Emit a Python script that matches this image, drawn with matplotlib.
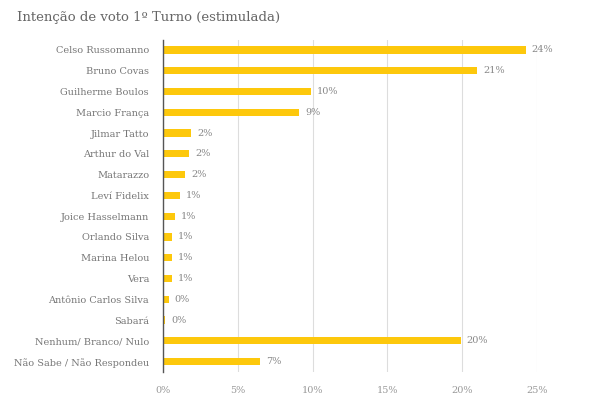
import matplotlib
matplotlib.use("Agg")
import matplotlib.pyplot as plt

categories = ["Celso Russomanno", "Bruno Covas", "Guilherme Boulos", "Marcio França",
              "Jilmar Tatto", "Arthur do Val", "Matarazzo", "Leví Fidelix",
              "Joice Hasselmann", "Orlando Silva", "Marina Helou", "Vera",
              "Antônio Carlos Silva", "Sabará", "Nenhum/ Branco/ Nulo",
              "Não Sabe / Não Respondeu"]
values = [24.25, 21.0, 9.9, 9.1, 1.87, 1.74, 1.5, 1.14, 0.78, 0.6, 0.6, 0.6,
          0.38, 0.15, 19.9, 6.5]
value_labels = ["24%", "21%", "10%", "9%", "2%", "2%", "2%", "1%", "1%", "1%",
                "1%", "1%", "0%", "0%", "20%", "7%"]
xticks = [0, 5, 10, 15, 20, 25]
xtick_labels = ["0%", "5%", "10%", "15%", "20%", "25%"]

font = "DejaVu Serif"
fig = plt.figure(figsize=(6, 4), dpi=100)
ax = fig.add_axes([163/600, 1 - 372/400, (537-163)/600, (372-39.5)/400])

y = list(range(len(categories)))
ax.barh(y, values, height=0.35, color="#FDC80C", zorder=3)
for yi, v, lab in zip(y, values, value_labels):
    ax.text(v + 0.4, yi, lab, va="center", ha="left", fontsize=7.0,
            color="#888888", family=font)

ax.set_ylim(15.5, -0.5)
ax.set_xlim(0, 25)
ax.set_yticks(y)
ax.set_yticklabels(categories, fontsize=7.0, color="#777777", family=font)
ax.set_xticks(xticks)
ax.set_xticklabels(xtick_labels, fontsize=7.0, color="#999999", family=font)
ax.tick_params(axis="both", length=0)
ax.tick_params(axis="y", pad=10)
ax.tick_params(axis="x", pad=10)
ax.grid(axis="x", color="#DDDDDD", linewidth=0.8, zorder=0)
for s in ["top", "right", "bottom"]:
    ax.spines[s].set_visible(False)
ax.spines["left"].set_color("#555555")
ax.spines["left"].set_linewidth(1.0)
ax.spines["left"].set_zorder(4)

fig.text(17/600, 1 - 17/400, "Intenção de voto 1º Turno (estimulada)",
         fontsize=9.5, color="#666666", family=font, va="center", ha="left")

fig.savefig("out.png", dpi=100, facecolor="white")
